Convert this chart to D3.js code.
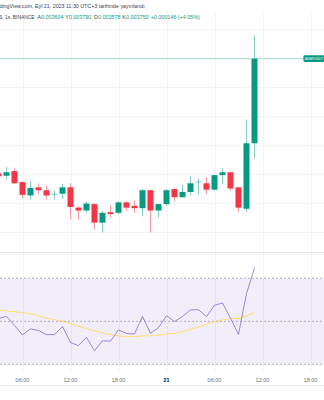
<!DOCTYPE html>
<html>
<head>
<meta charset="utf-8">
<script src="https://cdn.jsdelivr.net/npm/d3@7"></script>
<style>
  html, body { margin: 0; padding: 0; background: #fff; }
  svg { display: block; font-family: "Liberation Sans", Arial, sans-serif; }
</style>
</head>
<body>
<svg id="chart" width="324" height="400"></svg>
<script>
// JASMY / TetherUS, 1h candles, BINANCE
const firstBar = Date.UTC(2023, 8, 20, 3);   // 20 Sep 03:00
const opens  = [0.003552,0.003548,0.003556,0.003537,0.003514,0.003528,0.003523,0.003516,0.003517,0.003528,0.003493,0.003488,0.003499,0.003467,0.003485,0.003484,0.003502,0.003496,0.003492,0.003523,0.003488,0.003499,0.003525,0.003511,0.003520,0.003537,0.003535,0.003524,0.003549,0.003554,0.003528,0.003491,0.003604];
const highs  = [0.003553,0.003563,0.003561,0.003538,0.003539,0.003535,0.003531,0.003522,0.003534,0.003535,0.003495,0.003503,0.003500,0.003487,0.003497,0.003504,0.003504,0.003505,0.003525,0.003524,0.003500,0.003525,0.003526,0.003532,0.003547,0.003544,0.003545,0.003550,0.003561,0.003555,0.003529,0.003645,0.003790];
const lows   = [0.003546,0.003542,0.003534,0.003509,0.003507,0.003516,0.003507,0.003508,0.003508,0.003473,0.003472,0.003484,0.003455,0.003450,0.003476,0.003482,0.003488,0.003484,0.003478,0.003450,0.003476,0.003496,0.003504,0.003510,0.003514,0.003516,0.003516,0.003522,0.003533,0.003522,0.003485,0.003486,0.003578];
const closes = [0.003547,0.003554,0.003535,0.003515,0.003527,0.003523,0.003514,0.003517,0.003528,0.003494,0.003488,0.003500,0.003467,0.003484,0.003482,0.003502,0.003493,0.003492,0.003523,0.003488,0.003499,0.003523,0.003511,0.003520,0.003535,0.003538,0.003524,0.003549,0.003554,0.003526,0.003493,0.003604,0.003750];
const rsi    = [51.3,52.3,48.1,43.6,46.5,45.7,43.8,43.8,47.6,40.1,38.7,42.5,36.3,40.9,40.8,46.0,44.3,44.1,52.3,44.4,47.1,52.6,49.9,52.2,55.3,55.4,52.2,57.5,58.5,51.4,43.9,62.9,74.9];
const rsiMa  = [55.0,54.8,54.5,54.0,53.6,52.5,51.5,50.8,50.0,48.9,47.8,46.6,45.6,44.6,43.8,43.2,42.9,42.9,43.2,43.3,43.5,44.1,44.3,45.2,46.3,47.3,48.6,49.9,50.6,51.3,51.3,52.7,54.0];
const rsiLevels = [70, 50, 30];
const symbolTitle = "S, 1s, BINANCE";
const publishedNote = "dingView.com, Eyl 21, 2023 11:30 UTC+3 tarihinde yayınlandı";
const symbolTag = "JASMYUSDT";

const W = 324;
const UP = "#089981", DOWN = "#F23645";
const GRID = "#f1f3f7";

const bars = opens.map((o, i) => ({
  t: new Date(firstBar + i * 3600e3),
  o, h: highs[i], l: lows[i], c: closes[i], r: rsi[i], m: rsiMa[i]
}));

const svg = d3.select("#chart");

// scales
const x = d3.scaleUtc()
  .domain([new Date(Date.UTC(2023, 8, 20, 6)), new Date(Date.UTC(2023, 8, 21, 6))])
  .range([22.5, 214.5]);
const yP = d3.scaleLinear().domain([0.0034, 0.0038]).range([261.5, 29.7]);
const yR = d3.scaleLinear().domain([30, 70]).range([364.3, 278.3]);

const mainTop = 11, mainBottom = 252, rsiTop = 253, rsiBottom = 371;
const tickDates = d3.utcHour.every(6).range(x.invert(-10), x.invert(W + 10));

// main pane
const main = svg.append("g");
main.append("clipPath").attr("id", "clipMain")
  .append("rect").attr("x", 0).attr("y", mainTop).attr("width", W).attr("height", mainBottom - mainTop);

const gm = main.append("g").attr("clip-path", "url(#clipMain)");
gm.selectAll("line.vg").data(tickDates).join("line")
  .attr("x1", d => Math.round(x(d)) + 0.5).attr("x2", d => Math.round(x(d)) + 0.5)
  .attr("y1", mainTop).attr("y2", mainBottom).attr("stroke", GRID);
gm.selectAll("line.hg").data(yP.ticks(8)).join("line")
  .attr("x1", 0).attr("x2", W)
  .attr("y1", d => yP(d)).attr("y2", d => yP(d)).attr("stroke", GRID);

// last price line
const last = bars[bars.length - 1];
gm.append("line").attr("x1", 0).attr("x2", W)
  .attr("y1", yP(last.c)).attr("y2", yP(last.c))
  .attr("stroke", UP).attr("stroke-opacity", 0.3);

// candles
const bw = 6;
const cg = gm.selectAll("g.candle").data(bars).join("g");
cg.append("line")
  .attr("x1", d => x(d.t)).attr("x2", d => x(d.t))
  .attr("y1", d => yP(d.h)).attr("y2", d => yP(d.l))
  .attr("stroke", d => d.c >= d.o ? UP : DOWN).attr("stroke-opacity", 0.5);
cg.append("rect")
  .attr("x", d => x(d.t) - bw / 2).attr("width", bw)
  .attr("y", d => yP(Math.max(d.o, d.c)))
  .attr("height", d => Math.max(1, Math.abs(yP(d.o) - yP(d.c))))
  .attr("fill", d => d.c >= d.o ? UP : DOWN)
  .attr("fill-opacity", d => Math.abs(yP(d.o) - yP(d.c)) < 1.5 ? 0.5 : 1);

// symbol tag on the price line
const tagY = yP(last.c);
main.append("rect").attr("x", 303.5).attr("y", tagY - 3.4).attr("width", 20.5).attr("height", 6.8)
  .attr("rx", 1).attr("fill", UP);
main.append("text").attr("x", 304.3).attr("y", tagY + 1.2).attr("font-size", 3.1)
  .attr("fill", "#fff").text(symbolTag);

// header texts
svg.append("text").attr("x", -0.5).attr("y", 7.8).attr("font-size", 5.3)
  .attr("fill", "#3a3e4a").text(publishedNote);

const fmt = d3.format(".6f");
const legend = svg.append("g").attr("font-size", 5.4);
const ly = 18.6;
legend.append("text").attr("x", -1).attr("y", ly).attr("font-size", 4.9)
  .attr("fill", "#3a3e4a").text(symbolTitle);
const ohlc = [["A", last.o, 37.3], ["Y", last.h, 65.2], ["D", last.l, 94], ["K", last.c, 122.3]];
ohlc.forEach(([lab, v, px]) => {
  const t = legend.append("text").attr("x", px).attr("y", ly);
  t.append("tspan").attr("fill", "#3a3e4a").text(lab);
  t.append("tspan").attr("fill", UP).text(fmt(v));
});
const chg = last.c - last.o;
legend.append("text").attr("x", 150.7).attr("y", ly).attr("fill", UP)
  .text(`${chg >= 0 ? "+" : ""}${fmt(chg)} (${chg >= 0 ? "+" : ""}${(chg / last.o * 100).toFixed(2)}%)`);

// pane separator
svg.append("line").attr("x1", 0).attr("x2", W).attr("y1", 252.5).attr("y2", 252.5).attr("stroke", "#e6e8ee");

// RSI pane
const rp = svg.append("g");
rp.append("clipPath").attr("id", "clipRsi")
  .append("rect").attr("x", 0).attr("y", rsiTop).attr("width", W).attr("height", rsiBottom - rsiTop);
const gr = rp.append("g").attr("clip-path", "url(#clipRsi)");
gr.selectAll("line.vg").data(tickDates).join("line")
  .attr("x1", d => Math.round(x(d)) + 0.5).attr("x2", d => Math.round(x(d)) + 0.5)
  .attr("y1", rsiTop).attr("y2", rsiBottom).attr("stroke", GRID);
gr.append("line").attr("x1", 0).attr("x2", W).attr("y1", 254.5).attr("y2", 254.5).attr("stroke", GRID);
gr.append("rect").attr("x", 0).attr("width", W)
  .attr("y", yR(rsiLevels[0])).attr("height", yR(rsiLevels[2]) - yR(rsiLevels[0]))
  .attr("fill", "#7E57C2").attr("fill-opacity", 0.1);
gr.selectAll("line.lvl").data(rsiLevels).join("line")
  .attr("x1", 0).attr("x2", W).attr("y1", d => yR(d)).attr("y2", d => yR(d))
  .attr("stroke", "#787B86").attr("stroke-opacity", 0.55).attr("stroke-dasharray", "2,2");
gr.append("path").datum(bars)
  .attr("d", d3.line().x(d => x(d.t)).y(d => yR(d.m)))
  .attr("fill", "none").attr("stroke", "#FDD835").attr("stroke-opacity", 0.7).attr("stroke-width", 1);
gr.append("path").datum(bars)
  .attr("d", d3.line().x(d => x(d.t)).y(d => yR(d.r)))
  .attr("fill", "none").attr("stroke", "#7E57C2").attr("stroke-opacity", 0.7).attr("stroke-width", 1);

// time axis
const axis = svg.append("g").attr("font-size", 5.5).attr("text-anchor", "middle");
axis.selectAll("text").data(tickDates.filter(d => x(d) > 5 && x(d) < W - 2)).join("text")
  .attr("x", d => x(d)).attr("y", 382)
  .attr("fill", d => d.getUTCHours() === 0 ? "#131722" : "#6a6d78")
  .attr("font-weight", d => d.getUTCHours() === 0 ? "bold" : "normal")
  .text(d => d.getUTCHours() === 0 ? d3.utcFormat("%-d")(d) : d3.utcFormat("%H:%M")(d));
svg.append("line").attr("x1", 0).attr("x2", W).attr("y1", 385.5).attr("y2", 385.5).attr("stroke", "#e6e8ee");
</script>
</body>
</html>
